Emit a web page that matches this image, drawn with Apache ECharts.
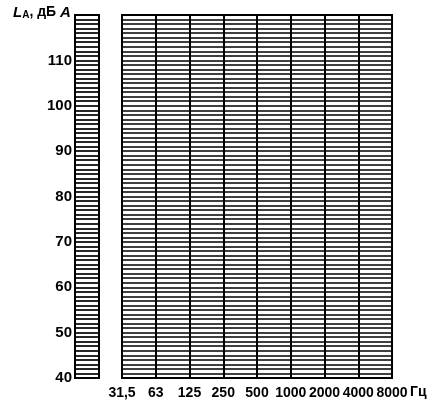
<!DOCTYPE html>
<html><head><meta charset="utf-8">
<script src="https://cdn.jsdelivr.net/npm/echarts@6/dist/echarts.min.js"></script>
<style>html,body{margin:0;padding:0;background:#fff}#c{width:438px;height:414px}</style>
</head><body><div id="c"></div>
<script>
const frequencies = ['31,5','63','125','250','500','1000','2000','4000','8000'];
const yMin = 40, yMax = 120, yStep = 1, yLabelStep = 10;
const yLabelHidden = [120];
const levelValues = []; // blank form: no plotted values

const chart = echarts.init(document.getElementById('c'));
const font = '"Liberation Sans", Arial, sans-serif';
const lineC = '#000';
const yAxisBase = {
  type: 'value', min: yMin, max: yMax, interval: yStep,
  axisLine: {show: true, lineStyle: {color: lineC, width: 2}},
  axisTick: {show: false},
  splitLine: {show: true, lineStyle: {color: lineC, width: 1.7}}
};
chart.setOption({
  animation: false,
  grid: [
    {left: 75, top: 15, width: 24, height: 363, show: true, borderColor: lineC, borderWidth: 2, backgroundColor: 'transparent'},
    {left: 122, top: 15, width: 270, height: 363, show: true, borderColor: lineC, borderWidth: 2, backgroundColor: 'transparent'}
  ],
  xAxis: [
    {gridIndex: 0, type: 'value', min: 0, max: 1, show: false},
    {gridIndex: 1, type: 'value', min: 0, max: frequencies.length - 1, interval: 1,
     axisLine: {show: true, lineStyle: {color: lineC, width: 2}},
     axisTick: {show: false},
     splitLine: {show: true, lineStyle: {color: lineC, width: 2}},
     axisLabel: {margin: 8, color: '#000', fontFamily: font, fontSize: 14, fontWeight: 'bold',
       showMinLabel: true, showMaxLabel: true, hideOverlap: false,
       formatter: v => frequencies[v] || ''}}
  ],
  yAxis: [
    Object.assign({}, yAxisBase, {gridIndex: 0,
      axisLabel: {margin: 3, color: '#000', fontFamily: font, fontSize: 15, fontWeight: 'bold',
        formatter: v => (v % yLabelStep === 0 && yLabelHidden.indexOf(v) < 0) ? String(v) : ''}}),
    Object.assign({}, yAxisBase, {gridIndex: 1, axisLabel: {show: false}})
  ],
  series: [
    {type: 'line', xAxisIndex: 1, yAxisIndex: 1, data: levelValues}
  ],
  graphic: [
    {type: 'text', left: 13, top: 5, style: {
      text: '{i|L}{s|A}{n|, дБ }{i|A}',
      rich: {
        i: {fontFamily: font, fontSize: 15, fontWeight: 'bold', fontStyle: 'italic', fill: '#000'},
        s: {fontFamily: font, fontSize: 10, fontWeight: 'bold', fill: '#000', padding: [5, 0, 0, 0]},
        n: {fontFamily: font, fontSize: 14, fontWeight: 'bold', fill: '#000'}
      }}},
    {type: 'text', left: 410, top: 385, style: {text: 'Гц', fontFamily: font, fontSize: 14, fontWeight: 'bold', fill: '#000'}}
  ]
});
</script></body></html>
